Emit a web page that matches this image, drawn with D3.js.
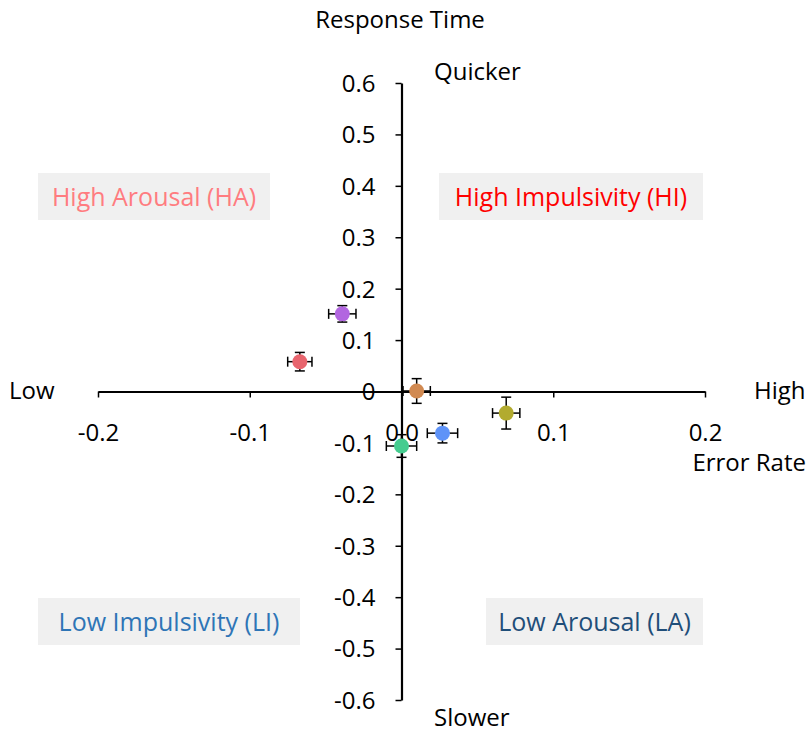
<!DOCTYPE html>
<html>
<head>
<meta charset="utf-8">
<script src="https://cdn.jsdelivr.net/npm/d3@7"></script>
<style>
  body { margin: 0; background: #fff; }
  text { font-family: "Open Sans", sans-serif; }
</style>
</head>
<body>
<div id="chart_div"></div>
<script>
// data
var groups = ["purple", "red", "orange", "olive", "blue", "green"];
var errorRate = [-0.039, -0.067, 0.010, 0.069, 0.027, 0.000];
var responseTime = [0.151, 0.058, 0.001, -0.042, -0.081, -0.106];
var errX = [0.009, 0.008, 0.009, 0.009, 0.010, 0.010];
var errY = [0.016, 0.018, 0.024, 0.031, 0.019, 0.022];
var colors = ["#b266e0", "#e8656e", "#d18a52", "#b2ab2f", "#5f93f8", "#45cc8f"];
var xTicks = [-0.2, -0.1, 0.0, 0.1, 0.2];
var yTicks = [0.6, 0.5, 0.4, 0.3, 0.2, 0.1, 0, -0.1, -0.2, -0.3, -0.4, -0.5, -0.6];

var quadrants = [
  {label: "High Arousal (HA)", color: "#ff7c80", box: [38, 173, 232, 47]},
  {label: "High Impulsivity (HI)", color: "#ff0000", box: [439, 173, 264, 47]},
  {label: "Low Impulsivity (LI)", color: "#2e75b6", box: [38, 598, 262, 47]},
  {label: "Low Arousal (LA)", color: "#1f4e79", box: [486, 598, 217, 47]}
];

var width = 811, height = 735;
var fmt = d3.formatLocale({decimal: ".", thousands: ",", grouping: [3], currency: ["", ""], minus: "-"}).format(".1f");

var x = d3.scaleLinear().domain([-0.2, 0.2]).range([98, 705]);
var y = d3.scaleLinear().domain([-0.6, 0.6]).range([700, 83]);

var svg = d3.select("#chart_div").append("svg")
  .attr("width", width)
  .attr("height", height);

// quadrant boxes
var q = svg.selectAll(".quad").data(quadrants).enter().append("g").attr("class", "quad");
q.append("rect")
  .attr("x", function(d) { return d.box[0]; })
  .attr("y", function(d) { return d.box[1]; })
  .attr("width", function(d) { return d.box[2]; })
  .attr("height", function(d) { return d.box[3]; })
  .attr("fill", "#f0f0f0");
q.append("text")
  .attr("x", function(d) { return d.box[0] + d.box[2] / 2; })
  .attr("y", function(d) { return d.box[1] + 33; })
  .attr("text-anchor", "middle")
  .attr("font-size", 25)
  .attr("fill", function(d) { return d.color; })
  .text(function(d) { return d.label; });

// x axis through y=0
var xAxis = svg.append("g")
  .attr("transform", "translate(0," + y(0) + ")")
  .call(d3.axisBottom(x).tickValues(xTicks).tickSize(6).tickSizeOuter(0).tickFormat(fmt));
xAxis.select(".domain").attr("stroke-width", 2.2);
xAxis.selectAll(".tick line").attr("stroke-width", 1.5);
xAxis.selectAll(".tick text").attr("font-size", 24).attr("dy", "0").attr("y", 49)
  .attr("font-family", "'Open Sans', sans-serif");

// y axis through x=0
var yAxis = svg.append("g")
  .attr("transform", "translate(" + x(0) + ",0)")
  .call(d3.axisLeft(y).tickValues(yTicks).tickSize(6).tickSizeOuter(0)
    .tickFormat(function(d) { return d === 0 ? "0" : fmt(d); }));
yAxis.select(".domain").attr("stroke-width", 2.2);
yAxis.selectAll(".tick line").attr("stroke-width", 1.5);
yAxis.selectAll(".tick text").attr("font-size", 24).attr("x", -26).attr("dy", "0.35em")
  .attr("font-family", "'Open Sans', sans-serif");

// error bars
var pts = groups.map(function(g, i) {
  return {x: errorRate[i], y: responseTime[i], ex: errX[i], ey: errY[i], c: colors[i]};
});
var eb = svg.selectAll(".err").data(pts).enter().append("g").attr("class", "err")
  .attr("stroke", "#000").attr("stroke-width", 1.5);
eb.append("line")
  .attr("x1", function(d) { return x(d.x - d.ex); })
  .attr("x2", function(d) { return x(d.x + d.ex); })
  .attr("y1", function(d) { return y(d.y); })
  .attr("y2", function(d) { return y(d.y); });
eb.append("line")
  .attr("x1", function(d) { return x(d.x - d.ex); })
  .attr("x2", function(d) { return x(d.x - d.ex); })
  .attr("y1", function(d) { return y(d.y) - 5; })
  .attr("y2", function(d) { return y(d.y) + 5; });
eb.append("line")
  .attr("x1", function(d) { return x(d.x + d.ex); })
  .attr("x2", function(d) { return x(d.x + d.ex); })
  .attr("y1", function(d) { return y(d.y) - 5; })
  .attr("y2", function(d) { return y(d.y) + 5; });
eb.append("line")
  .attr("x1", function(d) { return x(d.x); })
  .attr("x2", function(d) { return x(d.x); })
  .attr("y1", function(d) { return y(d.y + d.ey); })
  .attr("y2", function(d) { return y(d.y - d.ey); });
eb.append("line")
  .attr("x1", function(d) { return x(d.x) - 5; })
  .attr("x2", function(d) { return x(d.x) + 5; })
  .attr("y1", function(d) { return y(d.y + d.ey); })
  .attr("y2", function(d) { return y(d.y + d.ey); });
eb.append("line")
  .attr("x1", function(d) { return x(d.x) - 5; })
  .attr("x2", function(d) { return x(d.x) + 5; })
  .attr("y1", function(d) { return y(d.y - d.ey); })
  .attr("y2", function(d) { return y(d.y - d.ey); });

// points
svg.selectAll(".pt").data(pts).enter().append("circle")
  .attr("class", "pt")
  .attr("cx", function(d) { return x(d.x); })
  .attr("cy", function(d) { return y(d.y); })
  .attr("r", 7.5)
  .attr("fill", function(d) { return d.c; });

// axis annotations
function label(t, px, py, anchor) {
  svg.append("text").attr("x", px).attr("y", py)
    .attr("text-anchor", anchor || "start")
    .attr("font-size", 24).attr("fill", "#000").text(t);
}
label("Response Time", 400, 28, "middle");
label("Quicker", 434, 80);
label("Slower", 434, 726);
label("Low", 9, 399);
label("High", 754, 399);
label("Error Rate", 806, 471, "end");
</script>
</body>
</html>
